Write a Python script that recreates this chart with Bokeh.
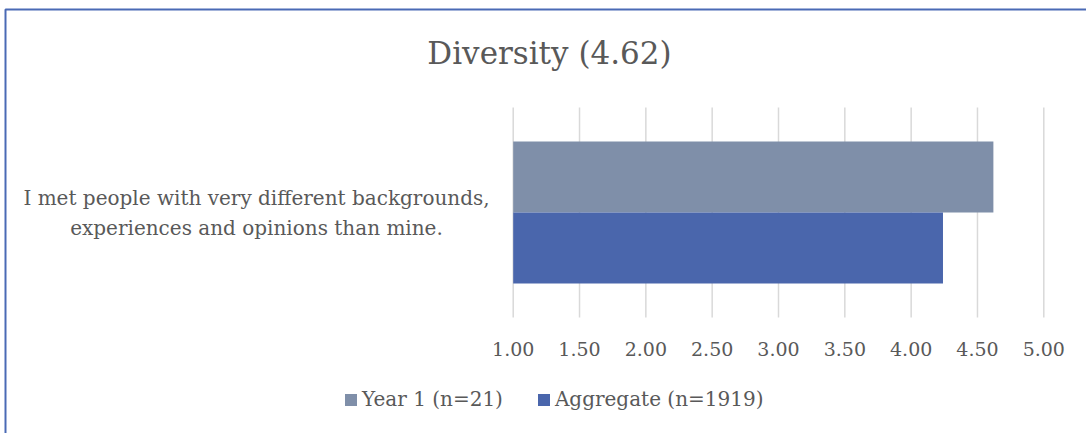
from bokeh.plotting import figure
from bokeh.models import (Range1d, Label, Legend, LegendItem, BoxAnnotation,
                          ColumnDataSource)
from bokeh.core.properties import value
from bokeh.embed import file_html
from bokeh.resources import INLINE

# Survey item and mean scores
title_text = "Diversity (4.62)"
question_lines = ["I met people with very different backgrounds,",
                  "experiences and opinions than mine."]
series_names = ["Year 1 (n=21)", "Aggregate (n=1919)"]
year1_values = [4.62]
aggregate_values = [4.24]
x_ticks = [1.0, 1.5, 2.0, 2.5, 3.0, 3.5, 4.0, 4.5, 5.0]
tick_labels = ["1.00", "1.50", "2.00", "2.50", "3.00", "3.50", "4.00", "4.50", "5.00"]

FONT = "DejaVu Serif"
TEXT_COLOR = "#595959"
GRAY = "#7F8FA9"
BLUE = "#4A66AC"
BORDER = "#4A6AB5"

W, H = 1086, 433
# plotting area in canvas pixels
PX_LEFT, PX_RIGHT = 512.7, 1043.3
PY_TOP, PY_BOTTOM = 107.0, 317.0
x_min, x_max = 1.0, 5.0
x_scale = (PX_RIGHT - PX_LEFT) / (x_max - x_min)
y_scale = PY_BOTTOM - PY_TOP


def y_at(py):
    """Data y for a canvas pixel row (category band spans 0..1)."""
    return (PY_BOTTOM - py) / y_scale


p = figure(width=W, height=H, output_backend="svg", toolbar_location=None,
           x_axis_location=None, y_axis_location=None,
           x_range=Range1d(x_min - PX_LEFT / x_scale, x_min + (W - PX_LEFT) / x_scale),
           y_range=Range1d(y_at(H), y_at(0)),
           min_border=0)
p.outline_line_color = None
p.grid.visible = False
p.background_fill_color = "white"
p.border_fill_color = "white"

# vertical value grid
p.segment(x0=x_ticks, x1=x_ticks, y0=[0] * len(x_ticks), y1=[1] * len(x_ticks),
          line_color="#D9D9D9", line_width=1.5)

# bars, dodged around the single category centre
src = ColumnDataSource(dict(year1=year1_values, agg=aggregate_values,
                            base=[x_min] * len(year1_values)))
bar_h = 0.338
r1 = p.hbar(y=0.5 + bar_h / 2, left="base", right="year1", height=bar_h,
            source=src, color=GRAY, line_color=None)
r2 = p.hbar(y=0.5 - bar_h / 2, left="base", right="agg", height=bar_h,
            source=src, color=BLUE, line_color=None)

# value tick labels
p.text(x=x_ticks, y=[y_at(348)] * len(x_ticks), text=tick_labels,
       text_align="center", text_baseline="middle", text_font=value(FONT),
       text_font_size="19px", text_color=TEXT_COLOR)

# title across the whole chart
p.add_layout(Label(x=549, y=H - 52, x_units="screen", y_units="screen", text=title_text,
                   text_align="center", text_baseline="middle", text_font=FONT,
                   text_font_size="31px", text_color=TEXT_COLOR))

# category label, two centred lines
for i, line in enumerate(question_lines):
    p.add_layout(Label(x=256, y=H - 197 - 30 * i, x_units="screen", y_units="screen",
                       text=line, text_align="center", text_baseline="middle",
                       text_font=FONT, text_font_size="20px", text_color=TEXT_COLOR))

legend = Legend(items=[LegendItem(label=series_names[0], renderers=[r1]),
                       LegendItem(label=series_names[1], renderers=[r2])],
                orientation="horizontal", location=(343, H - 411),
                glyph_width=15, glyph_height=15, label_text_font=FONT,
                label_text_font_size="20px", label_text_color=TEXT_COLOR,
                label_text_baseline="middle", label_height=22,
                border_line_color=None, background_fill_alpha=0, spacing=33,
                padding=0, margin=0, label_standoff=4)
p.add_layout(legend, "center")

# chart border (top and left edges fall inside the canvas)
p.add_layout(BoxAnnotation(left=5, right=W + 10, top=H - 9, bottom=-10,
                           left_units="screen", right_units="screen",
                           top_units="screen", bottom_units="screen",
                           fill_alpha=0, line_color=BORDER, line_alpha=1.0,
                           line_width=2))

open("out.html", "w").write(file_html(p, INLINE))
